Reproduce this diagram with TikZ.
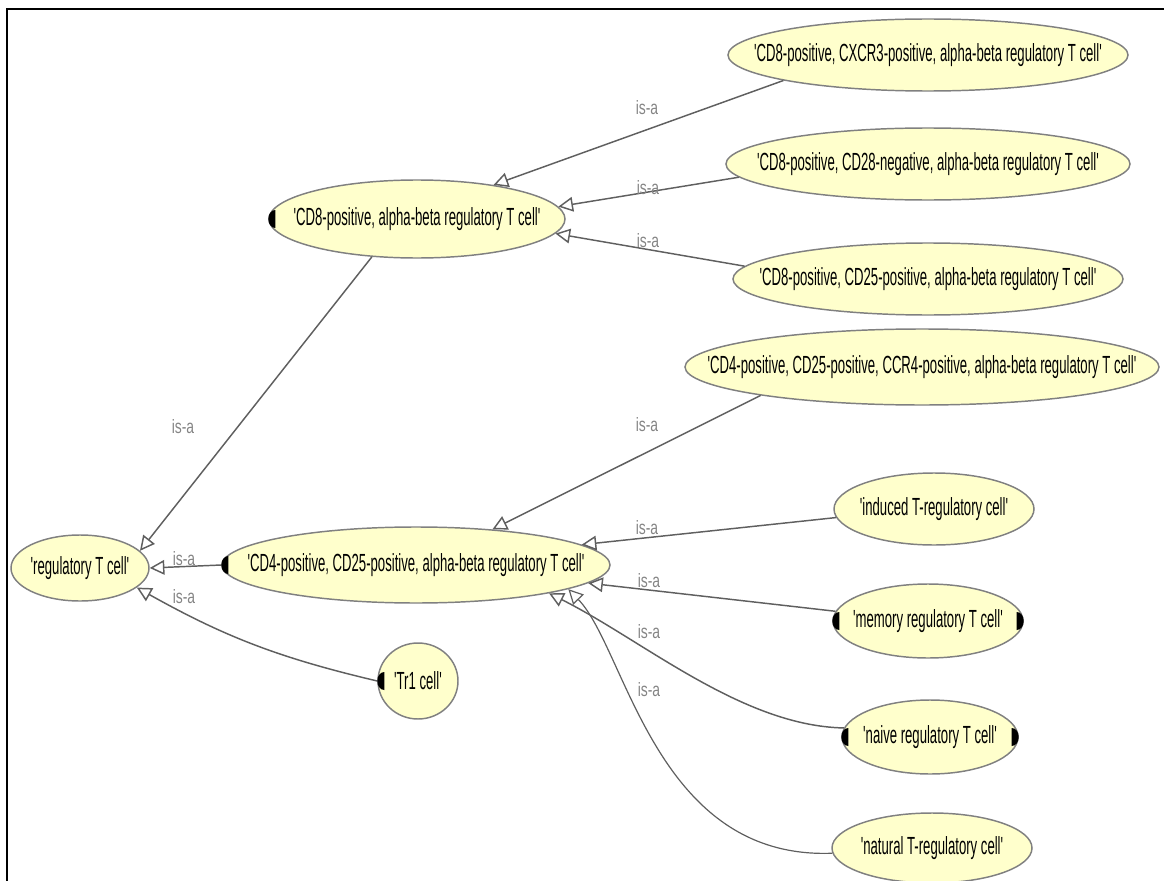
\documentclass[tikz,border=0pt]{standalone}
\usepackage{fontspec}
\setmainfont{Liberation Sans}
\newfontfamily\ontfont[FakeStretch=0.53]{Liberation Sans}
\newfontfamily\isafont[FakeStretch=0.72]{Liberation Sans}
\usetikzlibrary{arrows.meta,shapes.geometric}
\definecolor{ontFill}{HTML}{FFFFCC}
\definecolor{ontLine}{HTML}{808080}
\definecolor{ontEdge}{HTML}{5F5F5F}
\definecolor{ontLabel}{HTML}{858585}
\tikzset{
  ont node/.style={ellipse, draw=ontLine, fill=ontFill, line width=1.1pt,
    inner xsep=-8cm, inner ysep=-2cm, text=black,
    font=\ontfont\fontsize{18.6}{21}\selectfont},
  ont edge/.style={draw=ontEdge, line width=1.1pt,
    -{Triangle[length=11pt,width=11pt,fill=white]}},
  ont label/.style={font=\isafont\fontsize{14.5}{16}\selectfont,
    text=ontLabel, inner sep=0pt},
  ont handle/.style={fill=black}
}

\begin{document}
\begin{tikzpicture}[x=0.75pt,y=-0.75pt]
  \useasboundingbox (0,0) rectangle (1164,881);
  \draw[line width=1.5pt] (7,881) -- (7,9) -- (1164,9);

  % classes
  \node[ont node, minimum width=103.5pt, minimum height=49.5pt] (rtc) at (80,568) {'regulatory T cell'};
  \node[ont node, minimum width=291pt, minimum height=57pt] (cd4) at (416,565) {'CD4-positive, CD25-positive, alpha-beta regulatory T cell'};
  \node[ont node, minimum width=60pt, minimum height=57pt] (tr1) at (418,681) {'Tr1 cell'};
  \node[ont node, minimum width=222pt, minimum height=58.5pt] (cd8) at (417,219) {'CD8-positive, alpha-beta regulatory T cell'};
  \node[ont node, minimum width=300pt, minimum height=54pt] (cxcr3) at (928,55) {'CD8-positive, CXCR3-positive, alpha-beta regulatory T cell'};
  \node[ont node, minimum width=303pt, minimum height=54pt] (cd28) at (928,164) {'CD8-positive, CD28-negative, alpha-beta regulatory T cell'};
  \node[ont node, minimum width=292.5pt, minimum height=54pt] (cd25) at (928,279) {'CD8-positive, CD25-positive, alpha-beta regulatory T cell'};
  \node[ont node, minimum width=355.5pt, minimum height=57pt] (ccr4) at (922,367) {'CD4-positive, CD25-positive, CCR4-positive, alpha-beta regulatory T cell'};
  \node[ont node, minimum width=150pt, minimum height=54pt] (induced) at (934,509) {'induced T-regulatory cell'};
  \node[ont node, minimum width=142.5pt, minimum height=55.5pt] (memory) at (928,621) {'memory regulatory T cell'};
  \node[ont node, minimum width=132pt, minimum height=55.5pt] (naive) at (930,737) {'naive regulatory T cell'};
  \node[ont node, minimum width=150pt, minimum height=52.5pt] (natural) at (932,848) {'natural T-regulatory cell'};

  % is-a links
  \draw[ont edge] (cd8.220) -- (rtc.16);
  \draw[ont edge] (cd4.west) -- (rtc.east);
  \draw[ont edge] (tr1.west) to[bend left=8] (rtc.341);
  \draw[ont edge] (cxcr3.190) -- (cd8.24);
  \draw[ont edge] (cd28.184) -- (cd8.5);
  \draw[ont edge] (cd25.176) -- (cd8.354);
  \draw[ont edge] (ccr4.190) -- (cd4.25);
  \draw[ont edge] (induced.185) -- (cd4.7);
  \draw[ont edge] (memory.174) -- (cd4.354);
  \draw[ont edge] (naive.174) .. controls +(-102,-2) and +(94,47) .. (cd4.348);
  \draw[ont edge, line width=0.9pt] (natural.183) .. controls +(-177,7) and +(58,60) .. (cd4.351);

  \node[ont label] (l1) at (183,427) {is-a};
  \node[ont label] (l2) at (184,559) {is-a};
  \node[ont label] (l3) at (184,597) {is-a};
  \node[ont label] (l4) at (647,108) {is-a};
  \node[ont label] (l5) at (648,188) {is-a};
  \node[ont label] (l6) at (648,241) {is-a};
  \node[ont label] (l7) at (647,425) {is-a};
  \node[ont label] (l8) at (647,528) {is-a};
  \node[ont label] (l9) at (649,581) {is-a};
  \node[ont label] (l10) at (649,632) {is-a};
  \node[ont label] (l11) at (649,690) {is-a};

  % expand handles
  \foreach \n in {cd4,cd8,tr1,memory,naive}
    \fill[ont handle] ([xshift=5.25pt,yshift=6.75pt]\n.west)
      arc[start angle=90,end angle=270,x radius=5.25pt,y radius=6.75pt] -- cycle;
  \foreach \n in {memory,naive}
    \fill[ont handle] ([xshift=-5.25pt,yshift=6.75pt]\n.east)
      arc[start angle=90,end angle=-90,x radius=5.25pt,y radius=6.75pt] -- cycle;
\end{tikzpicture}
\end{document}
